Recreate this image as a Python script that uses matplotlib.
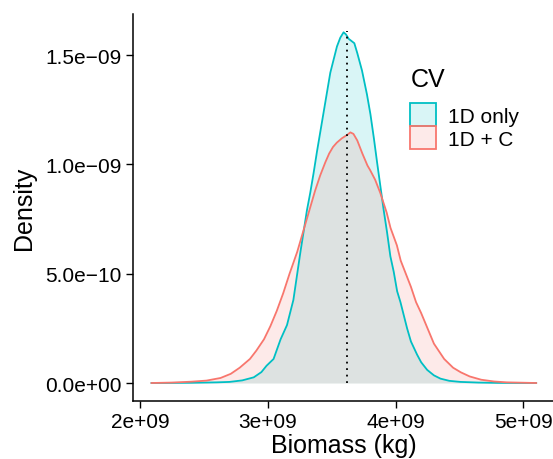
import matplotlib
matplotlib.use("Agg")
import matplotlib.pyplot as plt
from matplotlib.patches import Patch
from matplotlib.colors import to_rgba
import numpy as np

# biomass grid (1e9 kg) and densities (1e-10)
x_only = [2.09, 2.40, 2.60, 2.70, 2.80, 2.89, 2.95, 2.99, 3.045, 3.10, 3.15, 3.20,
          3.254, 3.306, 3.332, 3.358, 3.385, 3.411, 3.437, 3.463, 3.489, 3.515,
          3.541, 3.567, 3.593, 3.612, 3.633, 3.655, 3.677, 3.70, 3.737, 3.776,
          3.803, 3.83, 3.855, 3.881, 3.907, 3.933, 3.959, 3.985, 4.012, 4.038,
          4.064, 4.09, 4.12, 4.168, 4.20, 4.247, 4.30, 4.351, 4.42, 4.508, 4.65,
          4.80, 5.10]
dens_only = [0.0, 0.01, 0.03, 0.05, 0.12, 0.26, 0.5, 0.79, 1.1, 2.0, 2.65, 3.8,
             5.95, 7.9, 8.7, 9.6, 10.6, 11.5, 12.4, 13.3, 14.2, 14.8,
             15.4, 15.8, 16.05, 15.95, 15.75, 15.65, 15.55, 15.1, 14.3, 13.2,
             12.3, 11.2, 10.1, 9.0, 7.9, 6.9, 5.8, 5.1, 4.2, 3.7,
             3.1, 2.5, 1.9, 1.3, 0.95, 0.6, 0.35, 0.2, 0.1, 0.05, 0.02,
             0.005, 0.0]

x_plus_c = [2.09, 2.25, 2.40, 2.52, 2.63, 2.71, 2.78, 2.86, 2.91, 2.97, 3.02,
            3.07, 3.12, 3.17, 3.23, 3.28, 3.33, 3.37, 3.41, 3.45, 3.48, 3.51,
            3.54, 3.58, 3.62, 3.646, 3.67, 3.70, 3.74, 3.78, 3.80, 3.84, 3.88,
            3.93, 3.96, 4.01, 4.04, 4.08, 4.12, 4.16, 4.20, 4.25, 4.30, 4.38,
            4.45, 4.51, 4.58, 4.67, 4.77, 4.87, 5.10]
dens_plus_c = [0.0, 0.02, 0.06, 0.11, 0.23, 0.42, 0.7, 1.1, 1.48, 2.0, 2.6,
               3.3, 4.1, 5.0, 6.0, 7.0, 8.0, 8.8, 9.5, 10.1, 10.5, 10.8,
               11.0, 11.2, 11.35, 11.47, 11.4, 11.1, 10.5, 9.95, 9.75, 9.3, 8.7,
               7.8, 7.1, 6.3, 5.6, 5.0, 4.4, 3.7, 3.2, 2.5, 1.8, 1.1,
               0.7, 0.49, 0.3, 0.15, 0.07, 0.03, 0.0]

labels = ["1D only", "1D + C"]
colors = ["#00BFC4", "#F8766D"]
mean_biomass = 3.62   # 1e9 kg
peak_density = 16.1   # 1e-10

x_ticks = [2e9, 3e9, 4e9, 5e9]
x_ticklabels = ["2e+09", "3e+09", "4e+09", "5e+09"]
y_ticks = [0, 5e-10, 1e-9, 1.5e-9]
y_ticklabels = ["0.0e+00", "5.0e\u221210", "1.0e\u221209", "1.5e\u221209"]

plt.rcParams['font.family'] = ['Liberation Sans', 'DejaVu Sans']

fig = plt.figure(figsize=(5.53, 4.60), dpi=100)
ax = fig.add_axes([133 / 553, (460 - 401.6) / 460, 421.7 / 553, 387 / 460])

curves = [(x_only, dens_only), (x_plus_c, dens_plus_c)]
for (xs, ds), lab, col in zip(curves, labels, colors):
    xs = np.array(xs) * 1e9
    ds = np.array(ds) * 1e-10
    ax.fill_between(xs, 0, ds, color=to_rgba(col, 0.15), linewidth=0)
    ax.plot(xs, ds, color=col, lw=1.3, solid_joinstyle='round')

ax.vlines(mean_biomass * 1e9, 0, peak_density * 1e-10, colors='black',
          linestyles=(0, (1, 2.6)), lw=1.3)

ax.set_xlim(1.945e9, 5.245e9)
ax.set_ylim(-0.0805e-9, 1.6905e-9)
ax.set_xticks(x_ticks)
ax.set_xticklabels(x_ticklabels)
ax.set_yticks(y_ticks)
ax.set_yticklabels(y_ticklabels)
ax.tick_params(labelsize=15, length=5, width=1.0, pad=3, colors='black')

for side in ['top', 'right']:
    ax.spines[side].set_visible(False)
for side in ['left', 'bottom']:
    ax.spines[side].set_linewidth(1.1)

ax.set_xlabel("Biomass (kg)", fontsize=18, labelpad=2)
ax.set_ylabel("Density", fontsize=18, labelpad=7)

handles = [Patch(facecolor=to_rgba(c, 0.15), edgecolor=c, lw=1.3) for c in colors]
leg = ax.legend(handles, labels, title="CV", loc='upper left',
                bbox_to_anchor=(0.633, 0.89), frameon=False, fontsize=15,
                title_fontsize=18, handlelength=1.23, handleheight=1.33,
                handletextpad=0.6, labelspacing=0.0, borderpad=0,
                alignment='left')
leg._legend_box.sep = 9

fig.savefig("out.png", dpi=100)
